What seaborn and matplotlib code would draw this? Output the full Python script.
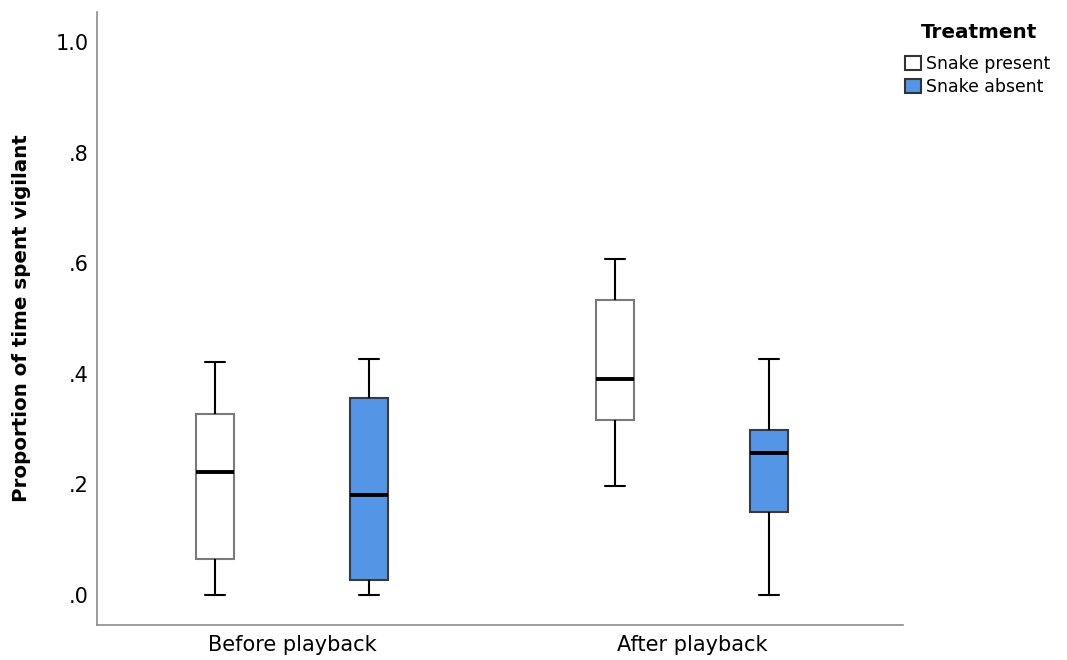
import pandas as pd
import matplotlib
matplotlib.use("Agg")
import matplotlib.pyplot as plt
from matplotlib.ticker import FuncFormatter
import seaborn as sns

# five-number values (min, q1, median, q3, max) for each box
phases = ["Before playback", "After playback"]
treatments = ["Snake present", "Snake absent"]
before_present = [0.0, 0.065, 0.222, 0.328, 0.421]
before_absent = [0.0, 0.027, 0.181, 0.357, 0.426]
after_present = [0.198, 0.317, 0.391, 0.533, 0.607]
after_absent = [0.0, 0.150, 0.257, 0.298, 0.426]

groups = {
    ("Before playback", "Snake present"): before_present,
    ("Before playback", "Snake absent"): before_absent,
    ("After playback", "Snake present"): after_present,
    ("After playback", "Snake absent"): after_absent,
}
rows = []
for (phase, treat), vals in groups.items():
    for v in vals:
        rows.append({"Phase": phase, "Treatment": treat, "Proportion": v})
df = pd.DataFrame(rows)

sns.set_style("white")
plt.rcParams['font.family'] = ['DejaVu Sans']
plt.rcParams['text.color'] = 'black'
plt.rcParams['axes.labelcolor'] = 'black'
plt.rcParams['xtick.color'] = 'black'
plt.rcParams['ytick.color'] = 'black'

fig = plt.figure(figsize=(10.67, 6.6), dpi=100)
ax = fig.add_axes([0.0909, 0.053, 0.7554, 0.9288])

palette = {"Snake present": "white", "Snake absent": "#5595E5"}
sns.boxplot(data=df, x="Phase", y="Proportion", hue="Treatment",
            order=phases, hue_order=treatments, palette=palette,
            saturation=1, width=0.77, gap=0.747, whis=(0, 100),
            linecolor="black", linewidth=1.5,
            medianprops={"color": "black", "linewidth": 2.8},
            ax=ax)

# box edges: grey for the white boxes, darker for the blue ones
for p in ax.patches:
    fc = p.get_facecolor()
    if fc[0] > 0.9 and fc[2] > 0.9 and fc[1] > 0.9:
        p.set_edgecolor("#7a7a7a")
    else:
        p.set_edgecolor("#3a3a3a")
    p.set_linewidth(1.5)

ax.set_xlim(-0.4875, 1.5275)
ax.set_ylim(-0.054, 1.054)
ax.set_yticks([0, 0.2, 0.4, 0.6, 0.8, 1.0])
ax.yaxis.set_major_formatter(FuncFormatter(lambda v, pos: "1.0" if v >= 1 else f"{v:.1f}".lstrip("0")))
ax.tick_params(axis="y", labelsize=15, length=0, pad=6)
ax.tick_params(axis="x", labelsize=15, length=0, pad=7)
ax.set_xlabel("")
ax.set_ylabel("Proportion of time spent vigilant", fontsize=14.3, fontweight="bold", labelpad=18)

for side in ["top", "right"]:
    ax.spines[side].set_visible(False)
for side in ["left", "bottom"]:
    ax.spines[side].set_color("#8c8c8c")
    ax.spines[side].set_linewidth(1.2)

handles, labels = ax.get_legend_handles_labels()
ax.get_legend().remove()
for h in handles:
    h.set_edgecolor("#333333")
fig.text(979 / 1067, 1 - 32 / 660, "Treatment", ha="center", va="center",
         fontsize=14.4, fontweight="bold")
leg = fig.legend(handles, labels, loc="upper left",
                 bbox_to_anchor=(905 / 1067, 1 - 55 / 660), frameon=False,
                 borderaxespad=0, borderpad=0,
                 fontsize=12.4, handlelength=0.9, handleheight=0.9,
                 handletextpad=0.3, labelspacing=0.3)

fig.savefig("out.png", dpi=100)
